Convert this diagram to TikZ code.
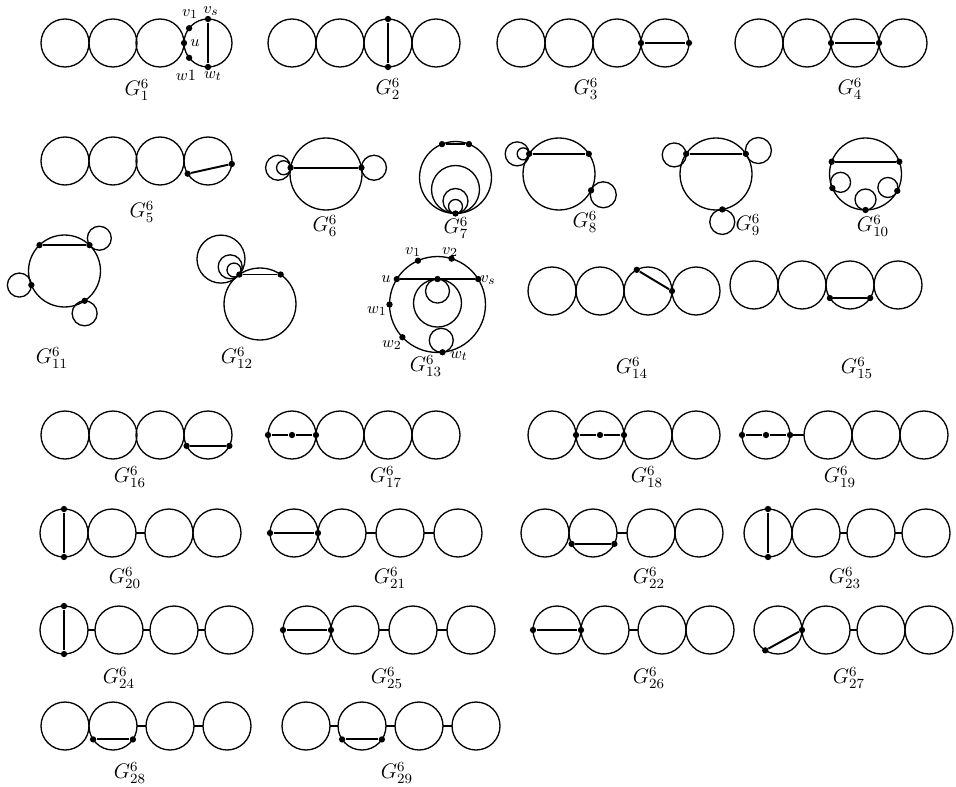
\documentclass[tikz,border=0pt]{standalone}
\usepackage{amsmath,amssymb}
\usepackage{tikz}
\usetikzlibrary{calc}

\begin{document}
\begin{tikzpicture}[x=0.02cm, y=-0.02cm,
    ring/.style={circle, draw, line width=0.75pt, inner sep=0pt, outer sep=0pt, minimum size=#1*0.04cm},
    vtx/.style={circle, fill, inner sep=0pt, minimum size=3.6pt},
    chord/.style={line width=1.1pt},
    bridge/.style={line width=0.75pt},
    glab/.style={font=\fontsize{12}{14}\selectfont},
    vlab/.style={font=\fontsize{9.5}{11}\selectfont, inner sep=1pt}]
  \useasboundingbox (0,0) rectangle (956,787);

  % row 1
  \foreach \x [count=\i] in {65,113,160,208} \node[ring=24] (g1c\i) at (\x,43) {};
  \node[vtx] (g1vs) at (g1c4.90) {};
  \node[vtx] (g1wt) at (g1c4.270) {};
  \node[vtx] (g1v1) at (g1c4.142) {};
  \node[vtx] (g1u) at (g1c4.180) {};
  \node[vtx] (g1w1) at (g1c4.218) {};
  \draw[chord] (g1vs) -- (g1wt);
  \node[vlab] (g1lv1) at (190,14) {$v_1$};
  \node[vlab] (g1lvs) at (211,11) {$v_s$};
  \node[vlab] (g1lu) at (195,43) {$u$};
  \node[vlab] (g1lw1) at (186,75) {$w1$};
  \node[vlab] (g1lwt) at (213,76) {$w_t$};
  \node[glab] (g1n) at (137,90) {$G^6_1$};

  \foreach \x [count=\i] in {292,340,388,436} \node[ring=24] (g2c\i) at (\x,43) {};
  \node[vtx] (g2a) at (g2c3.90) {};
  \node[vtx] (g2b) at (g2c3.270) {};
  \draw[chord] (g2a) -- (g2b);
  \node[glab] (g2n) at (388,89) {$G^6_2$};

  \foreach \x [count=\i] in {521,569,617,665} \node[ring=24] (g3c\i) at (\x,43) {};
  \node[vtx] (g3a) at (g3c4.180) {};
  \node[vtx] (g3b) at (g3c4.0) {};
  \draw[chord] (g3a) -- (g3b);
  \node[glab] (g3n) at (586,89) {$G^6_3$};

  \foreach \x [count=\i] in {759,807,855,903} \node[ring=24] (g4c\i) at (\x,43) {};
  \node[vtx] (g4a) at (g4c3.180) {};
  \node[vtx] (g4b) at (g4c3.0) {};
  \draw[chord] (g4a) -- (g4b);
  \node[glab] (g4n) at (850,89) {$G^6_4$};

  % row 2
  \foreach \x [count=\i] in {65,113,160,208} \node[ring=24] (g5c\i) at (\x,161) {};
  \node[vtx] (g5a) at (g5c4.212) {};
  \node[vtx] (g5b) at (g5c4.353) {};
  \draw[chord] (g5a) -- (g5b);
  \node[glab] (g5n) at (142,212) {$G^6_5$};

  \node[ring=36] (g6c) at (326,174) {};
  \node[ring=12.5, anchor=east] (g6l1) at (g6c.170) {};
  \node[ring=7, anchor=east] (g6l2) at (g6c.170) {};
  \node[ring=12.5, anchor=west] (g6l3) at (g6c.10) {};
  \node[vtx] (g6a) at (g6c.170) {};
  \node[vtx] (g6b) at (g6c.10) {};
  \draw[chord] (g6a) -- (g6b);
  \node[glab] (g6n) at (325,226) {$G^6_6$};

  \node[ring=36] (g7c) at (455.5,177.5) {};
  \foreach \r [count=\i] in {24,12.5,7} \node[ring=\r, anchor=south] (g7l\i) at (g7c.270) {};
  \node[vtx] (g7d) at (g7c.270) {};
  \node[vtx] (g7a) at (g7c.112) {};
  \node[vtx] (g7b) at (g7c.68) {};
  \draw[chord] (g7a) -- (g7b);
  \node[glab] (g7n) at (456,228) {$G^6_7$};

  \node[ring=36] (g8c) at (559,174) {};
  \node[ring=12, anchor=east] (g8l1) at (g8c.146) {};
  \node[ring=6, anchor=east] (g8l2) at (g8c.146) {};
  \node[ring=13, anchor=160] (g8l3) at (g8c.-27) {};
  \node[vtx] (g8a) at (g8c.146) {};
  \node[vtx] (g8b) at (g8c.34) {};
  \node[vtx] (g8d) at (g8c.-27) {};
  \draw[chord] (g8a) -- (g8b);
  \node[glab] (g8n) at (585,222) {$G^6_8$};

  \node[ring=36] (g9c) at (716,174) {};
  \node[ring=12, anchor=5] (g9l1) at (g9c.146) {};
  \node[ring=13, anchor=195] (g9l2) at (g9c.34) {};
  \node[ring=12.5, anchor=north] (g9l3) at (g9c.-80) {};
  \node[vtx] (g9a) at (g9c.146) {};
  \node[vtx] (g9b) at (g9c.34) {};
  \node[vtx] (g9d) at (g9c.-80) {};
  \draw[chord] (g9a) -- (g9b);
  \node[glab] (g9n) at (748,225) {$G^6_9$};

  \node[ring=36] (g10c) at (865.5,174) {};
  \node[ring=10, anchor=215] (g10l1) at (g10c.-157) {};
  \node[ring=10.5, anchor=south] (g10l2) at (g10c.270) {};
  \node[ring=10, anchor=-20] (g10l3) at (g10c.-28) {};
  \node[vtx] (g10a) at (g10c.160) {};
  \node[vtx] (g10b) at (g10c.20) {};
  \node[vtx] (g10d) at (g10c.-157) {};
  \node[vtx] (g10e) at (g10c.270) {};
  \node[vtx] (g10f) at (g10c.-28) {};
  \draw[chord] (g10a) -- (g10b);
  \node[glab] (g10n) at (873,226) {$G^6_{10}$};

  % row 3
  \node[ring=36] (g11c) at (64.5,271) {};
  \node[ring=12, anchor=215] (g11l1) at (g11c.46) {};
  \node[ring=12, anchor=east] (g11l2) at (g11c.203) {};
  \node[ring=12.5, anchor=north] (g11l3) at (g11c.-56) {};
  \node[vtx] (g11a) at (g11c.134) {};
  \node[vtx] (g11b) at (g11c.46) {};
  \node[vtx] (g11d) at (g11c.203) {};
  \node[vtx] (g11e) at (g11c.-56) {};
  \draw[chord] (g11a) -- (g11b);
  \node[glab] (g11n) at (52,358) {$G^6_{11}$};

  \node[ring=36] (g12c) at (260,304) {};
  \foreach \r [count=\i] in {24,12,7} \node[ring=\r, anchor=320] (g12l\i) at (g12c.125) {};
  \node[vtx] (g12a) at (g12c.125) {};
  \node[vtx] (g12b) at (g12c.55) {};
  \draw[chord] (g12a) -- (g12b);
  \node[glab] (g12n) at (237,358) {$G^6_{12}$};

  \node[ring=48] (g13c) at (437.5,304.5) {};
  \coordinate (g13m) at ($(g13c.148)!0.5!(g13c.32)$);
  \node[ring=24, anchor=north] (g13l1) at (g13m) {};
  \node[ring=12, anchor=north] (g13l2) at (g13m) {};
  \node[ring=12, anchor=276] (g13l3) at (g13c.276) {};
  \node[vtx] (g13u) at (g13c.148) {};
  \node[vtx] (g13vs) at (g13c.32) {};
  \node[vtx] (g13mid) at (g13m) {};
  \node[vtx] (g13v1) at (g13c.114) {};
  \node[vtx] (g13v2) at (g13c.73) {};
  \node[vtx] (g13w1) at (g13c.180) {};
  \node[vtx] (g13w2) at (g13c.223) {};
  \node[vtx] (g13wt) at (g13c.276) {};
  \draw[chord] (g13u) -- (g13vs);
  \node[vlab] (g13lv1) at (413,252) {$v_1$};
  \node[vlab] (g13lv2) at (450,252) {$v_2$};
  \node[vlab] (g13lu) at (386,279) {$u$};
  \node[vlab] (g13lvs) at (488,280) {$v_s$};
  \node[vlab] (g13lw1) at (377,311) {$w_1$};
  \node[vlab] (g13lw2) at (392,345) {$w_2$};
  \node[vlab] (g13lwt) at (459,356) {$w_t$};
  \node[glab] (g13n) at (426,366) {$G^6_{13}$};

  \foreach \x [count=\i] in {552,600,648,696} \node[ring=24] (g14c\i) at (\x,291) {};
  \node[vtx] (g14a) at (g14c3.118) {};
  \node[vtx] (g14b) at (g14c3.0) {};
  \draw[chord] (g14a) -- (g14b);
  \node[glab] (g14n) at (632,368) {$G^6_{14}$};

  \foreach \x [count=\i] in {754,802,850,898} \node[ring=24] (g15c\i) at (\x,285) {};
  \node[vtx] (g15a) at (g15c3.213) {};
  \node[vtx] (g15b) at (g15c3.327) {};
  \draw[chord] (g15a) -- (g15b);
  \node[glab] (g15n) at (857,368) {$G^6_{15}$};

  % row 4
  \foreach \x [count=\i] in {65,113,160,208} \node[ring=24] (g16c\i) at (\x,435) {};
  \node[vtx] (g16a) at (g16c4.207) {};
  \node[vtx] (g16b) at (g16c4.333) {};
  \draw[chord] (g16a) -- (g16b);
  \node[glab] (g16n) at (130,477) {$G^6_{16}$};

  \foreach \x [count=\i] in {292,340,388,436} \node[ring=24] (g17c\i) at (\x,435) {};
  \node[vtx] (g17a) at (g17c1.180) {};
  \node[vtx] (g17m) at (g17c1.center) {};
  \node[vtx] (g17b) at (g17c1.0) {};
  \draw[chord] (g17a) -- (g17m) -- (g17b);
  \node[glab] (g17n) at (386,477) {$G^6_{17}$};

  \foreach \x [count=\i] in {552,600,648,696} \node[ring=24] (g18c\i) at (\x,435) {};
  \node[vtx] (g18a) at (g18c2.180) {};
  \node[vtx] (g18m) at (g18c2.center) {};
  \node[vtx] (g18b) at (g18c2.0) {};
  \draw[chord] (g18a) -- (g18m) -- (g18b);
  \node[glab] (g18n) at (647,477) {$G^6_{18}$};

  \foreach \x [count=\i] in {766,828,876,924} \node[ring=24] (g19c\i) at (\x,435) {};
  \draw[bridge] (g19c1) -- (g19c2);
  \node[vtx] (g19a) at (g19c1.180) {};
  \node[vtx] (g19m) at (g19c1.center) {};
  \node[vtx] (g19b) at (g19c1.0) {};
  \draw[chord] (g19a) -- (g19m) -- (g19b);
  \node[glab] (g19n) at (840,477) {$G^6_{19}$};

  % row 5
  \foreach \x [count=\i] in {64,112,169,217} \node[ring=24] (g20c\i) at (\x,533) {};
  \draw[bridge] (g20c2) -- (g20c3);
  \node[vtx] (g20a) at (g20c1.90) {};
  \node[vtx] (g20b) at (g20c1.270) {};
  \draw[chord] (g20a) -- (g20b);
  \node[glab] (g20n) at (125,578) {$G^6_{20}$};

  \foreach \x [count=\i] in {294,342,400,458} \node[ring=24] (g21c\i) at (\x,533) {};
  \draw[bridge] (g21c2) -- (g21c3);
  \draw[bridge] (g21c3) -- (g21c4);
  \node[vtx] (g21a) at (g21c1.180) {};
  \node[vtx] (g21b) at (g21c1.0) {};
  \draw[chord] (g21a) -- (g21b);
  \node[glab] (g21n) at (390,578) {$G^6_{21}$};

  \foreach \x [count=\i] in {545,593,651,699} \node[ring=24] (g22c\i) at (\x,533) {};
  \draw[bridge] (g22c2) -- (g22c3);
  \node[vtx] (g22a) at (g22c2.207) {};
  \node[vtx] (g22b) at (g22c2.333) {};
  \draw[chord] (g22a) -- (g22b);
  \node[glab] (g22n) at (649,578) {$G^6_{22}$};

  \foreach \x [count=\i] in {768,816,871,926} \node[ring=24] (g23c\i) at (\x,533) {};
  \draw[bridge] (g23c2) -- (g23c3);
  \draw[bridge] (g23c3) -- (g23c4);
  \node[vtx] (g23a) at (g23c1.90) {};
  \node[vtx] (g23b) at (g23c1.270) {};
  \draw[chord] (g23a) -- (g23b);
  \node[glab] (g23n) at (845,578) {$G^6_{23}$};

  % row 6
  \foreach \x [count=\i] in {64,119,174,229} \node[ring=24] (g24c\i) at (\x,630) {};
  \draw[bridge] (g24c1) -- (g24c2);
  \draw[bridge] (g24c2) -- (g24c3);
  \draw[bridge] (g24c3) -- (g24c4);
  \node[vtx] (g24a) at (g24c1.90) {};
  \node[vtx] (g24b) at (g24c1.270) {};
  \draw[chord] (g24a) -- (g24b);
  \node[glab] (g24n) at (119,678) {$G^6_{24}$};

  \foreach \x [count=\i] in {307,355,413,471} \node[ring=24] (g25c\i) at (\x,630) {};
  \draw[bridge] (g25c2) -- (g25c3);
  \draw[bridge] (g25c3) -- (g25c4);
  \node[vtx] (g25a) at (g25c1.180) {};
  \node[vtx] (g25b) at (g25c1.0) {};
  \draw[chord] (g25a) -- (g25b);
  \node[glab] (g25n) at (387,678) {$G^6_{25}$};

  \foreach \x [count=\i] in {557,605,662,710} \node[ring=24] (g26c\i) at (\x,630) {};
  \draw[bridge] (g26c2) -- (g26c3);
  \node[vtx] (g26a) at (g26c1.180) {};
  \node[vtx] (g26b) at (g26c1.0) {};
  \draw[chord] (g26a) -- (g26b);
  \node[glab] (g26n) at (649,678) {$G^6_{26}$};

  \foreach \x [count=\i] in {778,826,881,929} \node[ring=24] (g27c\i) at (\x,630) {};
  \draw[bridge] (g27c2) -- (g27c3);
  \node[vtx] (g27a) at (g27c1.238) {};
  \node[vtx] (g27b) at (g27c1.0) {};
  \draw[chord] (g27a) -- (g27b);
  \node[glab] (g27n) at (849,678) {$G^6_{27}$};

  % row 7
  \foreach \x [count=\i] in {65,113,170,227} \node[ring=24] (g28c\i) at (\x,726) {};
  \draw[bridge] (g28c2) -- (g28c3);
  \draw[bridge] (g28c3) -- (g28c4);
  \node[vtx] (g28a) at (g28c2.214) {};
  \node[vtx] (g28b) at (g28c2.326) {};
  \draw[chord] (g28a) -- (g28b);
  \node[glab] (g28n) at (130,773) {$G^6_{28}$};

  \foreach \x [count=\i] in {306,362,419,476} \node[ring=24] (g29c\i) at (\x,726) {};
  \draw[bridge] (g29c1) -- (g29c2);
  \draw[bridge] (g29c2) -- (g29c3);
  \draw[bridge] (g29c3) -- (g29c4);
  \node[vtx] (g29a) at (g29c2.214) {};
  \node[vtx] (g29b) at (g29c2.326) {};
  \draw[chord] (g29a) -- (g29b);
  \node[glab] (g29n) at (397,773) {$G^6_{29}$};
\end{tikzpicture}
\end{document}
